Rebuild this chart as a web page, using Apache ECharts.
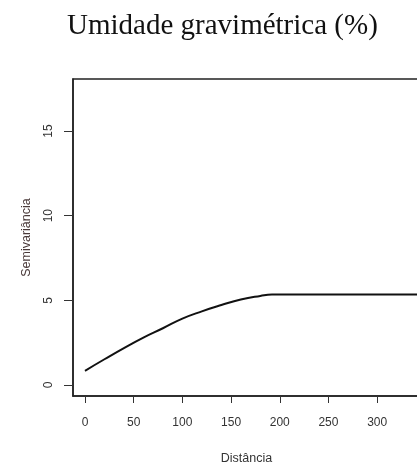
<!DOCTYPE html>
<html>
<head>
<meta charset="utf-8">
<script src="https://cdn.jsdelivr.net/npm/echarts@6/dist/echarts.min.js"></script>
<style>
  html, body { margin: 0; padding: 0; background: #fff; }
  #main { width: 417px; height: 466px; }
</style>
</head>
<body>
<div id="main"></div>
<script>
// semivariograma ajustado
var distancias = [0, 20, 40, 60, 80, 100, 120, 140, 160, 180, 192, 344]
var semivariancia = [0.84, 1.52, 2.18, 2.8, 3.35, 3.92, 4.35, 4.72, 5.05, 5.26, 5.34, 5.34]
var xTicks = [0, 50, 100, 150, 200, 250, 300]
var yTicks = [0, 5, 10, 15]

var chart = echarts.init(document.getElementById('main'))

var pontos = []
distancias.forEach(function (d, i) {
  pontos.push([d, semivariancia[i]])
})

var option = {
  backgroundColor: '#fff',
  animation: false,
  title: {
    text: 'Umidade gravimétrica (%)',
    left: 67,
    top: 12,
    padding: 0,
    textStyle: {
      fontFamily: 'Liberation Serif',
      fontWeight: 'normal',
      fontSize: 29,
      color: '#111'
    }
  },
  grid: {
    left: 73,
    top: 79,
    right: -3,
    bottom: 70,
    outerBoundsMode: 'none',
    show: true,
    borderColor: '#222',
    borderWidth: 1.5
  },
  xAxis: {
    type: 'value',
    min: -12.3,
    max: 344,
    name: 'Distância',
    nameLocation: 'middle',
    nameGap: 56,
    nameTextStyle: { fontFamily: 'Liberation Sans', fontSize: 12.5, color: '#333' },
    axisLine: { show: true, onZero: false, lineStyle: { color: '#222', width: 1.5 } },
    axisTick: {
      show: true,
      customValues: xTicks,
      length: 7,
      lineStyle: { color: '#333', width: 1 }
    },
    axisLabel: {
      customValues: xTicks,
      margin: 21,
      fontFamily: 'Liberation Sans',
      fontSize: 12,
      color: '#333'
    },
    splitLine: { show: false }
  },
  yAxis: {
    type: 'value',
    min: -0.65,
    max: 18.07,
    name: 'Semivariância',
    nameLocation: 'middle',
    nameRotate: 90,
    nameGap: 40,
    nameTextStyle: { fontFamily: 'Liberation Sans', fontSize: 12.5, color: '#4a3a3a' },
    axisLine: { show: true, onZero: false, lineStyle: { color: '#222', width: 1.5 } },
    axisTick: {
      show: true,
      customValues: yTicks,
      length: 9,
      lineStyle: { color: '#333', width: 1 }
    },
    axisLabel: {
      customValues: yTicks,
      rotate: 90,
      margin: 18,
      fontFamily: 'Liberation Sans',
      fontSize: 12,
      color: '#333'
    },
    splitLine: { show: false }
  },
  series: [
    {
      type: 'line',
      data: pontos,
      smooth: true,
      showSymbol: false,
      lineStyle: { color: '#111', width: 2 }
    }
  ]
}

chart.setOption(option)
</script>
</body>
</html>
